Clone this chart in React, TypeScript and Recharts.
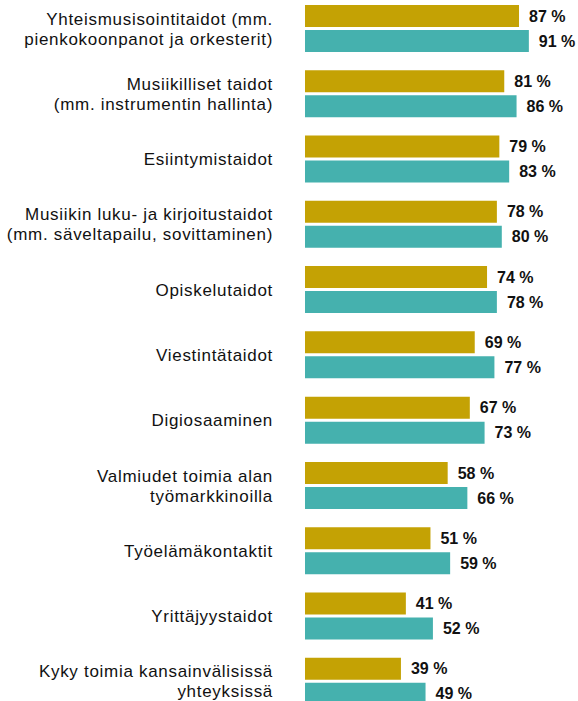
import { Bar, BarChart, LabelList, XAxis, YAxis } from "recharts"

const categories = [
  "Yhteismusisointitaidot (mm.\npienkokoonpanot ja orkesterit)",
  "Musiikilliset taidot\n(mm. instrumentin hallinta)",
  "Esiintymistaidot",
  "Musiikin luku- ja kirjoitustaidot\n(mm. säveltapailu, sovittaminen)",
  "Opiskelutaidot",
  "Viestintätaidot",
  "Digiosaaminen",
  "Valmiudet toimia alan\ntyömarkkinoilla",
  "Työelämäkontaktit",
  "Yrittäjyystaidot",
  "Kyky toimia kansainvälisissä\nyhteyksissä",
]
const seriesA = [87, 81, 79, 78, 74, 69, 67, 58, 51, 41, 39]
const seriesB = [91, 86, 83, 80, 78, 77, 73, 66, 59, 52, 49]

const data = categories.map((name, i) => ({ name, a: seriesA[i], b: seriesB[i] }))

const FONT = "'Liberation Sans', Arial, Helvetica, sans-serif"

function CategoryTick(props: any) {
  const { x, y, payload } = props
  const lines = String(payload.value).split("\n")
  const lineH = 20
  const startY = y - ((lines.length - 1) * lineH) / 2 + 6
  return (
    <text x={x - 24} y={startY} textAnchor="end" fill="#111" fontSize={17} letterSpacing={0.7} fontFamily={FONT}>
      {lines.map((l, i) => (
        <tspan key={i} x={x - 24} y={startY + i * lineH}>{l}</tspan>
      ))}
    </text>
  )
}

const fmt = (v: any) => `${v} %`

export default function App() {
  return (
    <div style={{ position: "absolute", top: -4, left: 0, background: "#fff" }}>
      <BarChart
        width={578}
        height={718}
        data={data}
        layout="vertical"
        margin={{ top: 0, right: 27, bottom: 0, left: 0 }}
        barSize={22}
        barGap={3}
      >
        <XAxis type="number" domain={[0, 100]} hide />
        <YAxis
          type="category"
          dataKey="name"
          width={305}
          axisLine={false}
          tickLine={false}
          interval={0}
          tick={<CategoryTick />}
        />
        <Bar dataKey="a" fill="#C4A204" isAnimationActive={false}>
          <LabelList dataKey="a" position="right" offset={10} formatter={fmt} fill="#111" fontSize={16} fontWeight="bold" fontFamily={FONT} />
        </Bar>
        <Bar dataKey="b" fill="#45B1AE" isAnimationActive={false}>
          <LabelList dataKey="b" position="right" offset={10} formatter={fmt} fill="#111" fontSize={16} fontWeight="bold" fontFamily={FONT} />
        </Bar>
      </BarChart>
    </div>
  )
}
